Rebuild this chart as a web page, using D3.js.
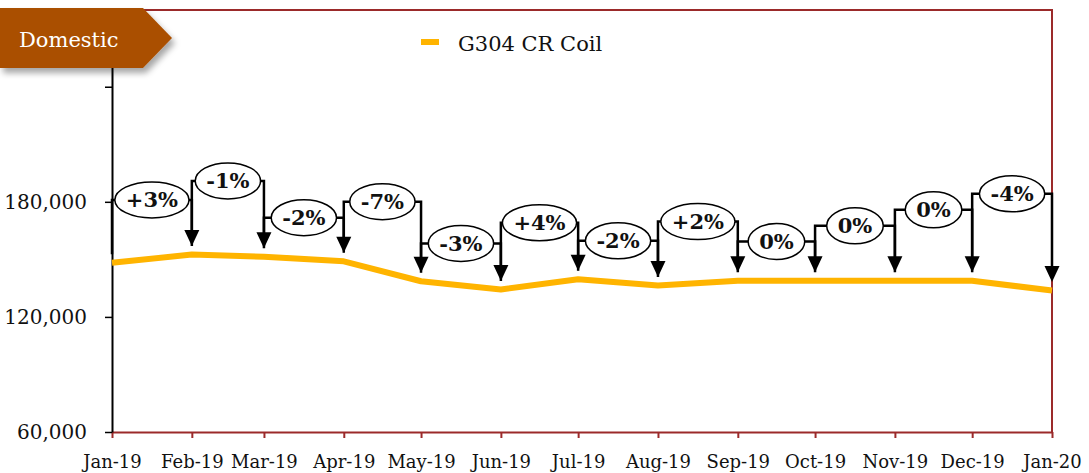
<!DOCTYPE html>
<html>
<head>
<meta charset="utf-8">
<script src="https://cdn.jsdelivr.net/npm/d3@7"></script>
<style>
    body { margin: 0; background: #fff; }
    svg { display: block; font-family: "DejaVu Serif", serif; }
</style>
</head>
<body>
<div id="chart"></div>
<script>
// month labels on the x axis (first of each month)
const months = ["Jan-19", "Feb-19", "Mar-19", "Apr-19", "May-19", "Jun-19", "Jul-19",
    "Aug-19", "Sep-19", "Oct-19", "Nov-19", "Dec-19", "Jan-20"];
// G304 CR Coil price
const coilPrices = [148200, 152500, 151400, 149000, 138600, 134300, 139600,
    136400, 138800, 138800, 138800, 138800, 133800];
// month on month change callouts
const changeLabels = ["+3%", "-1%", "-2%", "-7%", "-3%", "+4%", "-2%", "+2%", "0%", "0%", "0%", "-4%"];
// value where each callout bracket sits
const bracketLevels = [181000, 190900, 171700, 180100, 158300, 169100, 159700,
    169700, 159300, 167500, 175800, 184200];
const yTicks = [60000, 120000, 180000, 240000];
const yTickLabels = ["60,000", "120,000", "180,000", ""];
const seriesName = "G304 CR Coil";
const bannerText = "Domestic";

var width = 1089, height = 473;
var i1 = 112, i2 = 1052, j1 = 10, j2 = 432;
var frameColor = "#9b2a2a";
var lineColor = "#ffb400";

var parseMonth = d3.timeParse("%b-%y");
var dates = months.map(parseMonth);

var x = d3.scaleTime()
    .domain([dates[0], dates[dates.length - 1]])
    .range([i1, i2]);
var y = d3.scaleLinear()
    .domain([60000, 280000])
    .range([j2, j1]);

var svg = d3.select("#chart").append("svg")
    .attr("width", width)
    .attr("height", height);

var defs = svg.append("defs");
defs.append("filter")
    .attr("id", "shadow")
    .attr("x", "-20%").attr("y", "-20%")
    .attr("width", "150%").attr("height", "160%")
    .append("feDropShadow")
    .attr("dx", 3).attr("dy", 5)
    .attr("stdDeviation", 3)
    .attr("flood-color", "#000")
    .attr("flood-opacity", 0.35);

// red frame, top and right
svg.append("path")
    .attr("d", "M" + i1 + "," + j1 + "H" + i2 + "V" + j2)
    .attr("fill", "none")
    .attr("stroke", frameColor)
    .attr("stroke-width", 2);

// x axis
var axisHorizontal = d3.axisBottom(x)
    .tickValues(dates)
    .tickFormat((d, i) => months[i])
    .tickSize(6)
    .tickSizeOuter(0)
    .tickPadding(17);
var gx = svg.append("g")
    .attr("transform", "translate(0," + j2 + ")")
    .call(axisHorizontal);
gx.select(".domain").attr("stroke", frameColor).attr("stroke-width", 2);
gx.selectAll(".tick line").attr("stroke", frameColor).attr("stroke-width", 2);
gx.selectAll(".tick text")
    .attr("fill", "#111")
    .style("font-family", "DejaVu Serif")
    .style("font-size", "18px");

// y axis
var axisVertical = d3.axisLeft(y)
    .tickValues(yTicks)
    .tickFormat((d, i) => yTickLabels[i])
    .tickSize(7)
    .tickSizeOuter(0)
    .tickPadding(18);
var gy = svg.append("g")
    .attr("transform", "translate(" + i1 + ",0)")
    .call(axisVertical);
gy.select(".domain").attr("stroke", "#000").attr("stroke-width", 2);
gy.selectAll(".tick line").attr("stroke", "#000").attr("stroke-width", 1.5);
gy.selectAll(".tick text")
    .attr("fill", "#111")
    .style("font-family", "DejaVu Serif")
    .style("font-size", "20px");

// price line
var line = d3.line()
    .x((d, i) => x(dates[i]))
    .y(d => y(d));
svg.append("path")
    .attr("d", line(coilPrices))
    .attr("fill", "none")
    .attr("stroke", lineColor)
    .attr("stroke-width", 6)
    .attr("stroke-linejoin", "round");

// change callouts: bracket, down arrow, ellipse with percent
var tipGap = 8.5, headH = 16, headW = 15;
var notes = svg.append("g");
for (var i = 0; i < changeLabels.length; i++) {
    var xL = x(dates[i]);
    var xR = x(dates[i + 1]);
    var yb = y(bracketLevels[i]);
    var tipL = y(coilPrices[i]) - tipGap;
    var tipR = y(coilPrices[i + 1]) - tipGap;
    var g = notes.append("g");
    g.append("path")
        .attr("d", "M" + xL + "," + tipL + "V" + yb + "H" + xR + "V" + (tipR - headH + 2))
        .attr("fill", "none")
        .attr("stroke", "#000")
        .attr("stroke-width", 2.5);
    g.append("path")
        .attr("d", "M" + (xR - headW / 2) + "," + (tipR - headH) + "L" + (xR + headW / 2) + "," + (tipR - headH)
            + "L" + xR + "," + tipR + "Z")
        .attr("fill", "#000");
    var ell = g.append("ellipse")
        .attr("cx", (xL + xR) / 2)
        .attr("cy", yb)
        .attr("ry", 18)
        .attr("fill", "#fff")
        .attr("stroke", "#000")
        .attr("stroke-width", 1.5);
    var txt = g.append("text")
        .attr("x", (xL + xR) / 2)
        .attr("y", yb)
        .attr("dy", "0.36em")
        .attr("text-anchor", "middle")
        .style("font-size", "21px")
        .style("font-weight", "bold")
        .attr("fill", "#111")
        .text(changeLabels[i]);
    var tw = txt.node().getComputedTextLength();
    ell.attr("rx", Math.min(tw / 2 + 11, (xR - xL) / 2 - 1));
}

// legend
var legend = svg.append("g");
legend.append("line")
    .attr("x1", 421).attr("x2", 439)
    .attr("y1", 42).attr("y2", 42)
    .attr("stroke", lineColor)
    .attr("stroke-width", 6);
legend.append("text")
    .attr("x", 458).attr("y", 51)
    .attr("fill", "#111")
    .style("font-size", "21px")
    .text(seriesName);

// banner
var banner = svg.append("g");
banner.append("path")
    .attr("d", "M0,8H143L172,38L143,68H0Z")
    .attr("fill", "#aa5000")
    .attr("filter", "url(#shadow)");
banner.append("text")
    .attr("x", 19).attr("y", 47)
    .attr("fill", "#fff")
    .style("font-size", "21px")
    .text(bannerText);
</script>
</body>
</html>
